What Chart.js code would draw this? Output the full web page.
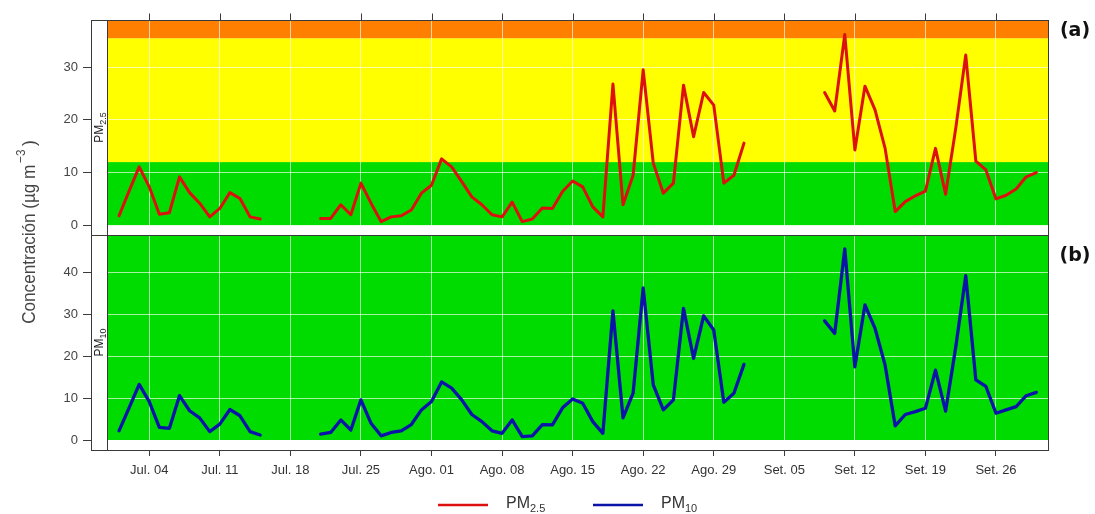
<!DOCTYPE html>
<html>
<head>
<meta charset="utf-8">
<script src="https://cdn.jsdelivr.net/npm/chart.js@4/dist/chart.umd.min.js"></script>
<style>
  html, body { margin: 0; padding: 0; background: #ffffff; }
  #wrap { position: relative; width: 1095px; height: 514px; }
</style>
</head>
<body>
<div id="wrap"><canvas id="c" width="1095" height="514"></canvas></div>
<script>
// ---------------- DATA ----------------
// Daily values, 1 Jul .. 30 Sep (index 0 = Jul 01); null = no data
const pm25 = [
  1.8, 6.5, 11.1, 7.3, 2.1, 2.4, 9.2, 6.2, 4.2, 1.6, 3.2, 6.2, 5.1, 1.6, 1.2,
  null, null, null, null, null,
  1.3, 1.3, 3.9, 2.0, 8.0, 4.2, 0.7, 1.6, 1.8, 2.9, 6.1, 7.6, 12.6, 11.1, 8.3, 5.4,
  3.9, 2.0, 1.6, 4.4, 0.7, 1.2, 3.3, 3.2, 6.4, 8.4, 7.3, 3.5, 1.6, 26.8, 3.9, 9.5,
  29.5, 11.8, 6.1, 8.0, 26.6, 16.8, 25.2, 22.8, 8.0, 9.5, 15.6,
  null, null, null, null, null, null, null,
  25.2, 21.7, 36.2, 14.3, 26.4, 21.9, 14.6, 2.6, 4.5, 5.6, 6.5, 14.6, 5.9, 18.3,
  32.3, 12.2, 10.5, 5.0, 5.7, 6.9, 9.2, 10.0
];
const pm10 = [
  2.2, 7.7, 13.3, 9.2, 3.0, 2.8, 10.6, 7.0, 5.3, 2.0, 3.8, 7.3, 5.8, 2.0, 1.2,
  null, null, null, null, null,
  1.4, 1.8, 4.8, 2.4, 9.6, 4.0, 1.0, 1.8, 2.2, 3.7, 7.2, 9.2, 13.9, 12.4, 9.6, 6.1,
  4.4, 2.2, 1.6, 4.8, 0.8, 1.0, 3.7, 3.6, 7.7, 9.8, 8.8, 4.4, 1.6, 30.9, 5.3, 11.2,
  36.4, 13.2, 7.2, 9.6, 31.5, 19.5, 29.7, 26.3, 9.0, 11.2, 18.1,
  null, null, null, null, null, null, null,
  28.5, 25.5, 45.7, 17.5, 32.3, 26.7, 17.9, 3.4, 6.1, 6.8, 7.6, 16.7, 6.9, 22.1,
  39.3, 14.4, 12.8, 6.4, 7.2, 8.0, 10.6, 11.4
];
const tickDays   = [3, 10, 17, 24, 31, 38, 45, 52, 59, 66, 73, 80, 87];
const tickLabels = ['Jul. 04', 'Jul. 11', 'Jul. 18', 'Jul. 25', 'Ago. 01', 'Ago. 08',
                    'Ago. 15', 'Ago. 22', 'Ago. 29', 'Set. 05', 'Set. 12', 'Set. 19', 'Set. 26'];
const pm25Ticks  = [0, 10, 20, 30];
const pm10Ticks  = [0, 10, 20, 30, 40];
const pm25Limits = [12, 35.5];   // green | yellow | orange
const seriesNames = ['PM', 'PM'];
const seriesSubs  = ['2.5', '10'];
const panelTags   = ['(a)', '(b)'];
const yTitle      = 'Concentración (µg m';

// ---------------- STYLE ----------------
const GREEN = '#00dc00', YELLOW = '#ffff00', ORANGE = '#ff7f00';
const RED = '#dd1010', BLUE = '#0a14a8';
const FRAME = '#3a3a3a';
const STRIP_W = 16;
const FONT = '"Liberation Sans", Arial, sans-serif';

const days = pm25.map((_, i) => i);
const pts = arr => arr.map((v, i) => ({ x: days[i], y: v }));

const setTicks = list => scale => { scale.ticks = list.map(v => ({ value: v })); };

const panelPlugin = {
  id: 'panels',
  beforeDraw(chart) {
    const { ctx, chartArea: a } = chart;
    const t = chart.scales.yTop, b = chart.scales.yBot;
    const left = a.left + STRIP_W;
    ctx.save();
    ctx.fillStyle = '#ffffff';
    ctx.fillRect(0, 0, chart.width, chart.height);
    const band = (sc, lo, hi, col) => {
      const y1 = sc.getPixelForValue(Math.min(hi, sc.max));
      const y2 = sc.getPixelForValue(Math.max(lo, sc.min));
      ctx.fillStyle = col;
      ctx.fillRect(left, y1, a.right - left, y2 - y1);
    };
    band(t, 0, pm25Limits[0], GREEN);
    band(t, pm25Limits[0], pm25Limits[1], YELLOW);
    band(t, pm25Limits[1], t.max, ORANGE);
    band(b, 0, b.max, GREEN);
    ctx.restore();
  },
  beforeDatasetsDraw(chart) {
    const { ctx, chartArea: a } = chart;
    const t = chart.scales.yTop, b = chart.scales.yBot, xs = chart.scales.x;
    ctx.save();
    // strip column
    ctx.fillStyle = '#ffffff';
    ctx.fillRect(a.left, a.top, STRIP_W, a.bottom - a.top);
    // frame
    ctx.strokeStyle = FRAME;
    ctx.lineWidth = 1;
    const L = Math.round(a.left) + 0.5, R = Math.round(a.right) + 0.5;
    const T = Math.round(a.top) + 0.5, B = Math.round(a.bottom) + 0.5;
    const M = Math.round(t.bottom) + 0.5;
    const S = Math.round(a.left + STRIP_W) + 0.5;
    ctx.strokeRect(L, T, R - L, B - T);
    ctx.beginPath();
    ctx.moveTo(L, M); ctx.lineTo(R, M);
    ctx.moveTo(S, T); ctx.lineTo(S, B);
    // top tick marks
    tickDays.forEach(d => {
      const x = Math.round(xs.getPixelForValue(d)) + 0.5;
      ctx.moveTo(x, T); ctx.lineTo(x, T - 7);
    });
    ctx.stroke();
    // strip labels
    const stripLabel = (sc, i) => {
      const cy = (sc.top + sc.bottom) / 2;
      ctx.save();
      ctx.translate(a.left + STRIP_W - 4, cy);
      ctx.rotate(-Math.PI / 2);
      ctx.fillStyle = '#222';
      ctx.font = '12px ' + FONT;
      const w1 = ctx.measureText(seriesNames[i]).width;
      ctx.font = '9px ' + FONT;
      const w2 = ctx.measureText(seriesSubs[i]).width;
      const x0 = -(w1 + w2) / 2;
      ctx.font = '12px ' + FONT;
      ctx.fillText(seriesNames[i], x0, 0);
      ctx.font = '9px ' + FONT;
      ctx.fillText(seriesSubs[i], x0 + w1, 3);
      ctx.restore();
    };
    stripLabel(t, 0);
    stripLabel(b, 1);
    ctx.restore();
  },
  afterDraw(chart) {
    const { ctx, chartArea: a } = chart;
    const t = chart.scales.yTop, b = chart.scales.yBot;
    ctx.save();
    // y title (tall, narrow lettering as in the source)
    const SQ = 0.9;
    ctx.fillStyle = '#444';
    ctx.font = '19px ' + FONT;
    const wMain = ctx.measureText(yTitle).width;
    ctx.font = '13px ' + FONT;
    const wSup = ctx.measureText('−3').width + 6;
    ctx.font = '19px ' + FONT;
    const wEnd = ctx.measureText(')').width;
    const total = (wMain + wSup + wEnd) * SQ;
    const cy = 232;
    ctx.translate(35, cy + total / 2);
    ctx.rotate(-Math.PI / 2);
    ctx.scale(SQ, 1);
    ctx.fillText(yTitle, 0, 0);
    ctx.font = '13px ' + FONT;
    ctx.fillText('−3', wMain + 2, -10);
    ctx.font = '19px ' + FONT;
    ctx.fillText(')', wMain + wSup, 0);
    ctx.restore();

    // panel tags
    ctx.save();
    ctx.fillStyle = '#111';
    ctx.font = 'bold 19px "DejaVu Sans", sans-serif';
    ctx.textAlign = 'center';
    ctx.textBaseline = 'middle';
    ctx.fillText(panelTags[0], 1075, t.top + 11);
    ctx.fillText(panelTags[1], 1075, b.top + 21);
    ctx.restore();

    // legend
    ctx.save();
    const items = [{ x: 438, col: RED, i: 0 }, { x: 593, col: BLUE, i: 1 }];
    items.forEach(it => {
      ctx.strokeStyle = it.col;
      ctx.lineWidth = 2.5;
      ctx.beginPath();
      ctx.moveTo(it.x, 505); ctx.lineTo(it.x + 50, 505);
      ctx.stroke();
      ctx.fillStyle = '#333';
      ctx.font = '16px ' + FONT;
      ctx.fillText(seriesNames[it.i], it.x + 68, 508);
      const w = ctx.measureText(seriesNames[it.i]).width;
      ctx.font = '11px ' + FONT;
      ctx.fillText(seriesSubs[it.i], it.x + 68 + w, 512);
    });
    ctx.restore();
  }
};

const gridColor = 'rgba(255,255,255,0.65)';

new Chart(document.getElementById('c'), {
  type: 'line',
  data: {
    datasets: [
      { label: 'PM2.5', data: pts(pm25), yAxisID: 'yTop', borderColor: RED, borderWidth: 3,
        borderJoinStyle: 'round', borderCapStyle: 'round',
        pointRadius: 0, tension: 0, spanGaps: false, fill: false },
      { label: 'PM10', data: pts(pm10), yAxisID: 'yBot', borderColor: BLUE, borderWidth: 3.3,
        borderJoinStyle: 'round', borderCapStyle: 'round',
        pointRadius: 0, tension: 0, spanGaps: false, fill: false }
    ]
  },
  options: {
    responsive: false,
    animation: false,
    devicePixelRatio: 1,
    layout: { padding: { left: 0, right: 47, top: 20, bottom: 0 } },
    plugins: { legend: { display: false }, tooltip: { enabled: false }, title: { display: false } },
    scales: {
      x: {
        type: 'linear', min: -2.78, max: 92.16,
        afterBuildTicks: setTicks(tickDays),
        afterFit: s => { s.height = 64; },
        grid: { color: gridColor, lineWidth: 1, tickColor: FRAME, tickLength: 6, drawOnChartArea: true },
        border: { display: true, color: FRAME },
        ticks: {
          autoSkip: false, maxRotation: 0, padding: 7, color: '#333',
          font: { family: FONT, size: 13 },
          callback: v => tickLabels[tickDays.indexOf(v)]
        }
      },
      yBot: {
        type: 'linear', position: 'left', stack: 'conc', stackWeight: 1,
        min: -2.39, max: 49.04,
        afterBuildTicks: setTicks(pm10Ticks),
        afterFit: s => { s.width = 91; },
        grid: { color: gridColor, lineWidth: 1, tickColor: FRAME, tickLength: 8 },
        border: { display: true, color: FRAME },
        ticks: { padding: 5, color: '#444', font: { family: FONT, size: 13 } }
      },
      yTop: {
        type: 'linear', position: 'left', stack: 'conc', stackWeight: 1,
        min: -1.84, max: 38.96,
        afterBuildTicks: setTicks(pm25Ticks),
        afterFit: s => { s.width = 91; },
        grid: { color: gridColor, lineWidth: 1, tickColor: FRAME, tickLength: 8 },
        border: { display: true, color: FRAME },
        ticks: { padding: 5, color: '#444', font: { family: FONT, size: 13 } }
      }
    }
  },
  plugins: [panelPlugin]
});
</script>
</body>
</html>
